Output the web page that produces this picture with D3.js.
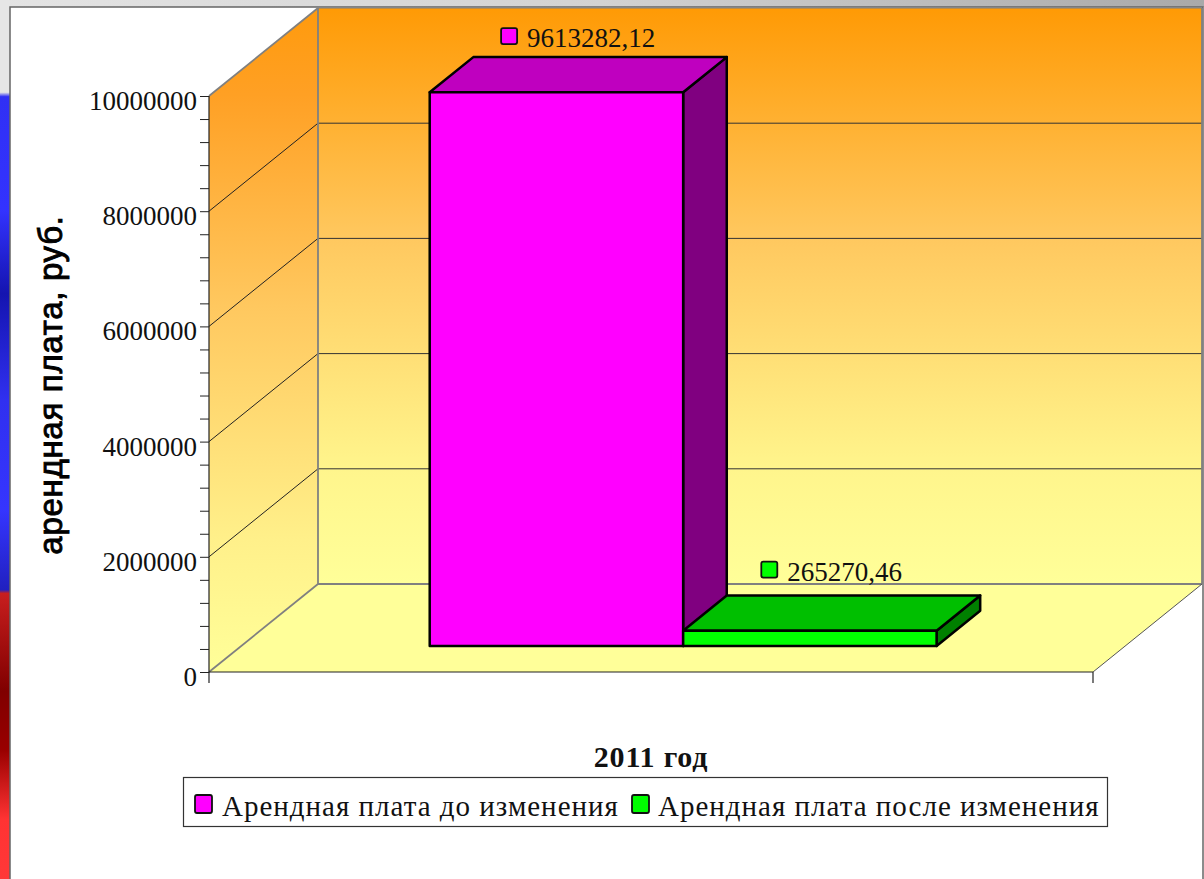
<!doctype html>
<html>
  <head>
    <meta charset="utf-8">
    <script src="https://cdn.jsdelivr.net/npm/d3@7/dist/d3.min.js"></script>
    <style>
      html, body { margin: 0; padding: 0; background: #fff; }
      svg { display: block; }
      text { fill: #111; }
      .num { font-family: "Liberation Serif", serif; font-size: 27px; }
      .edge { stroke: #000; stroke-width: 2.5; stroke-linejoin: round; }
    </style>
  </head>
  <body>
    <svg width="1204" height="879"></svg>
    <script>
      var categories = ["Арендная плата до изменения", "Арендная плата после изменения"];
      var values = [9613282.12, 265270.46];
      var valueLabels = ["9613282,12", "265270,46"];
      var majorTicks = [0, 2000000, 4000000, 6000000, 8000000, 10000000];
      var minorTicks = [400000, 800000, 1200000, 1600000, 2400000, 2800000, 3200000, 3600000, 4400000, 4800000, 5200000, 5600000, 6400000, 6800000, 7200000, 7600000, 8400000, 8800000, 9200000, 9600000];
      var yTitle = "арендная плата, руб.";
      var xTitle = "2011 год";
      var barColors = ["#ff00ff", "#00ff00"];
      var barTops = ["#bf00bf", "#00bf00"];
      var barSides = ["#800080", "#008000"];

      var svg = d3.select("svg");

      // plot box: front plane, and how far the back wall is shifted from it
      var x0 = 209, x1 = 1093, depthX = 109, depthY = -88;
      var y = d3.scaleLinear().domain([0, 10000000]).range([672, 96]);

      var defs = svg.append("defs");
      function gradient(id, dir, stops) {
        var g = defs.append("linearGradient").attr("id", id)
          .attr("x1", 0).attr("y1", 0)
          .attr("x2", dir == "h" ? 1 : 0).attr("y2", dir == "h" ? 0 : 1);
        stops.forEach(s => g.append("stop").attr("offset", s[0]).attr("stop-color", s[1]));
      }
      gradient("wall", "v", [[0, "#ff9a05"], [0.4, "#ffc85f"], [0.8, "#fff58c"], [1, "#ffff99"]]);
      gradient("side", "v", [[0, "#ff9a0c"], [0.13, "#ffa024"], [0.45, "#ffc85f"], [0.8, "#fff08a"], [1, "#ffff99"]]);
      gradient("topbar", "h", [[0, "#e4e4e4"], [0.5, "#d2d2d2"], [1, "#a9a9a9"]]);
      gradient("strip", "v", [[0, "#e6e6e6"], [0.105, "#e6e6e6"], [0.11, "#3030f5"], [0.239, "#3333ff"], [0.334, "#1414b0"], [0.455, "#3030f0"], [0.58, "#3535ff"], [0.671, "#2020c0"], [0.675, "#c81e1e"], [0.786, "#800000"], [0.853, "#990000"], [0.932, "#ff3333"], [1, "#ff3838"]]);

      // slide background showing behind the chart
      svg.append("rect").attr("width", 1204).attr("height", 7).attr("fill", "url(#topbar)");
      svg.append("rect").attr("y", 0).attr("width", 10).attr("height", 879).attr("fill", "url(#strip)");
      svg.append("rect").attr("x", 10).attr("y", 7).attr("width", 1193).attr("height", 873)
        .attr("fill", "#fff").attr("stroke", "#666").attr("stroke-width", 1.5);

      // walls and floor
      var g0 = y(0), gTop = y(10000000);
      svg.append("path")
        .attr("d", d3.line()([[x0, gTop], [x0 + depthX, gTop + depthY], [x0 + depthX, g0 + depthY], [x0, g0]]))
        .attr("fill", "url(#side)");
      svg.append("rect")
        .attr("x", x0 + depthX).attr("y", gTop + depthY)
        .attr("width", x1 - x0).attr("height", g0 - gTop)
        .attr("fill", "url(#wall)");
      svg.append("path")
        .attr("d", d3.line()([[x0, g0], [x0 + depthX, g0 + depthY], [x1 + depthX, g0 + depthY], [x1, g0]]))
        .attr("fill", "#ffff99");

      // gridlines run along the side wall and across the back
      majorTicks.forEach(t => {
        var gy = y(t);
        var edge = t == 0 || t == 10000000;
        svg.append("path")
          .attr("d", d3.line()([[x0, gy], [x0 + depthX, gy + depthY]]))
          .attr("fill", "none").attr("stroke", edge ? "#808080" : "#222").attr("stroke-width", edge ? 1.8 : 1);
        svg.append("line")
          .attr("x1", x0 + depthX).attr("x2", x1 + depthX)
          .attr("y1", gy + depthY).attr("y2", gy + depthY)
          .attr("stroke", edge ? "#808080" : "#333")
          .attr("stroke-width", t == 0 ? 1.8 : 1);
      });
      svg.append("line").attr("x1", x0 + depthX).attr("x2", x0 + depthX)
        .attr("y1", gTop + depthY).attr("y2", g0 + depthY).attr("stroke", "#808080").attr("stroke-width", 1.8);
      svg.append("line").attr("x1", x1 + depthX).attr("x2", x1 + depthX)
        .attr("y1", gTop + depthY).attr("y2", g0 + depthY).attr("stroke", "#808080").attr("stroke-width", 1.8);
      svg.append("path")
        .attr("d", d3.line()([[x1, g0], [x1 + depthX, g0 + depthY]]))
        .attr("fill", "none").attr("stroke", "#555").attr("stroke-width", 1);

      // bars sit part way into the floor
      var front = 0.295, barDepth = 0.4;
      var band = d3.scaleBand().domain(categories)
        .range([x0 + front * depthX, x1 + front * depthX]).paddingInner(0).paddingOuter(0.744);
      var shiftY = front * depthY;
      var bx = barDepth * depthX, by = barDepth * depthY;

      var bars = svg.selectAll("g.bar")
        .data(categories.map((c, i) => ({c: c, v: values[i], i: i})))
        .enter().append("g").attr("class", "bar");
      bars.each(function(d) {
        var g = d3.select(this);
        var l = band(d.c), r = l + band.bandwidth();
        var b = y(0) + shiftY, t = y(d.v) + shiftY;
        g.append("path").attr("class", "edge").attr("fill", barSides[d.i])
          .attr("d", d3.line()([[r, b], [r + bx, b + by], [r + bx, t + by], [r, t]]) + "Z");
        g.append("path").attr("class", "edge").attr("fill", barTops[d.i])
          .attr("d", d3.line()([[l, t], [l + bx, t + by], [r + bx, t + by], [r, t]]) + "Z");
        g.append("rect").attr("class", "edge").attr("fill", barColors[d.i])
          .attr("x", l).attr("y", t).attr("width", r - l).attr("height", b - t);
        // data label with its small key, centred over the bar top
        var cx = l + (r - l) / 2 + bx / 2;
        var ly = t + by - 29 - d.i * 5;
        var label = g.append("text").attr("class", "num").attr("y", ly + 19).text(valueLabels[d.i]);
        var w = label.node().getComputedTextLength() + 26;
        label.attr("x", cx - w / 2 + 26);
        g.append("rect").attr("x", cx - w / 2).attr("y", ly).attr("width", 16).attr("height", 16).attr("rx", 2)
          .attr("fill", barColors[d.i]).attr("stroke", "#111").attr("stroke-width", 1.8);
      });

      // axes
      var axisG = svg.append("g").attr("transform", `translate(${x0},0)`);
      var axisMajor = d3.axisLeft(y).tickValues(majorTicks).tickSize(9).tickPadding(3).tickFormat(d3.format("d"));
      var axisMinor = d3.axisLeft(y).tickValues(minorTicks).tickSize(9).tickFormat("");
      axisG.append("g").call(axisMinor).call(g => g.select(".domain").remove());
      axisG.append("g").call(axisMajor).call(g => g.select(".domain").remove())
        .selectAll("text").attr("class", "num").attr("fill", "#111").attr("dy", "0.5em").style("font-size", "27px");
      axisG.selectAll("line").attr("stroke", "#222");
      svg.append("line").attr("x1", x0).attr("x2", x0).attr("y1", gTop).attr("y2", g0 + 11).attr("stroke", "#222").attr("stroke-width", 1.2);
      svg.append("line").attr("x1", x0).attr("x2", x1).attr("y1", g0).attr("y2", g0).attr("stroke", "#222").attr("stroke-width", 1.2);
      svg.append("line").attr("x1", x1).attr("x2", x1).attr("y1", g0).attr("y2", g0 + 11).attr("stroke", "#222").attr("stroke-width", 1.2);

      // titles
      svg.append("text").attr("transform", "translate(62,385) rotate(-90)")
        .attr("text-anchor", "middle")
        .style("font-family", '"Liberation Sans", sans-serif').style("font-size", "33px")
        .style("letter-spacing", "0.7px")
        .style("fill", "#000").style("stroke", "#000").style("stroke-width", 0.9)
        .text(yTitle);
      svg.append("text").attr("x", 651).attr("y", 767).attr("text-anchor", "middle")
        .style("font-family", '"Liberation Serif", serif').style("font-size", "30px").style("font-weight", 700)
        .style("letter-spacing", "0.8px")
        .text(xTitle);

      // legend
      svg.append("rect").attr("x", 183.5).attr("y", 777.5).attr("width", 924).attr("height", 49)
        .attr("fill", "#fff").attr("stroke", "#333").attr("stroke-width", 1.2);
      var legendX = [195, 632];
      var legendTextX = [222, 658];
      categories.forEach((c, i) => {
        svg.append("rect").attr("x", legendX[i]).attr("y", 795).attr("width", 17).attr("height", 18).attr("rx", 2)
          .attr("fill", barColors[i]).attr("stroke", "#111").attr("stroke-width", 1.8);
        svg.append("text").attr("x", legendTextX[i]).attr("y", 816)
          .style("font-family", '"Liberation Serif", serif').style("font-size", "29px").style("letter-spacing", "1px")
          .text(c);
      });
    </script>
  </body>
</html>
